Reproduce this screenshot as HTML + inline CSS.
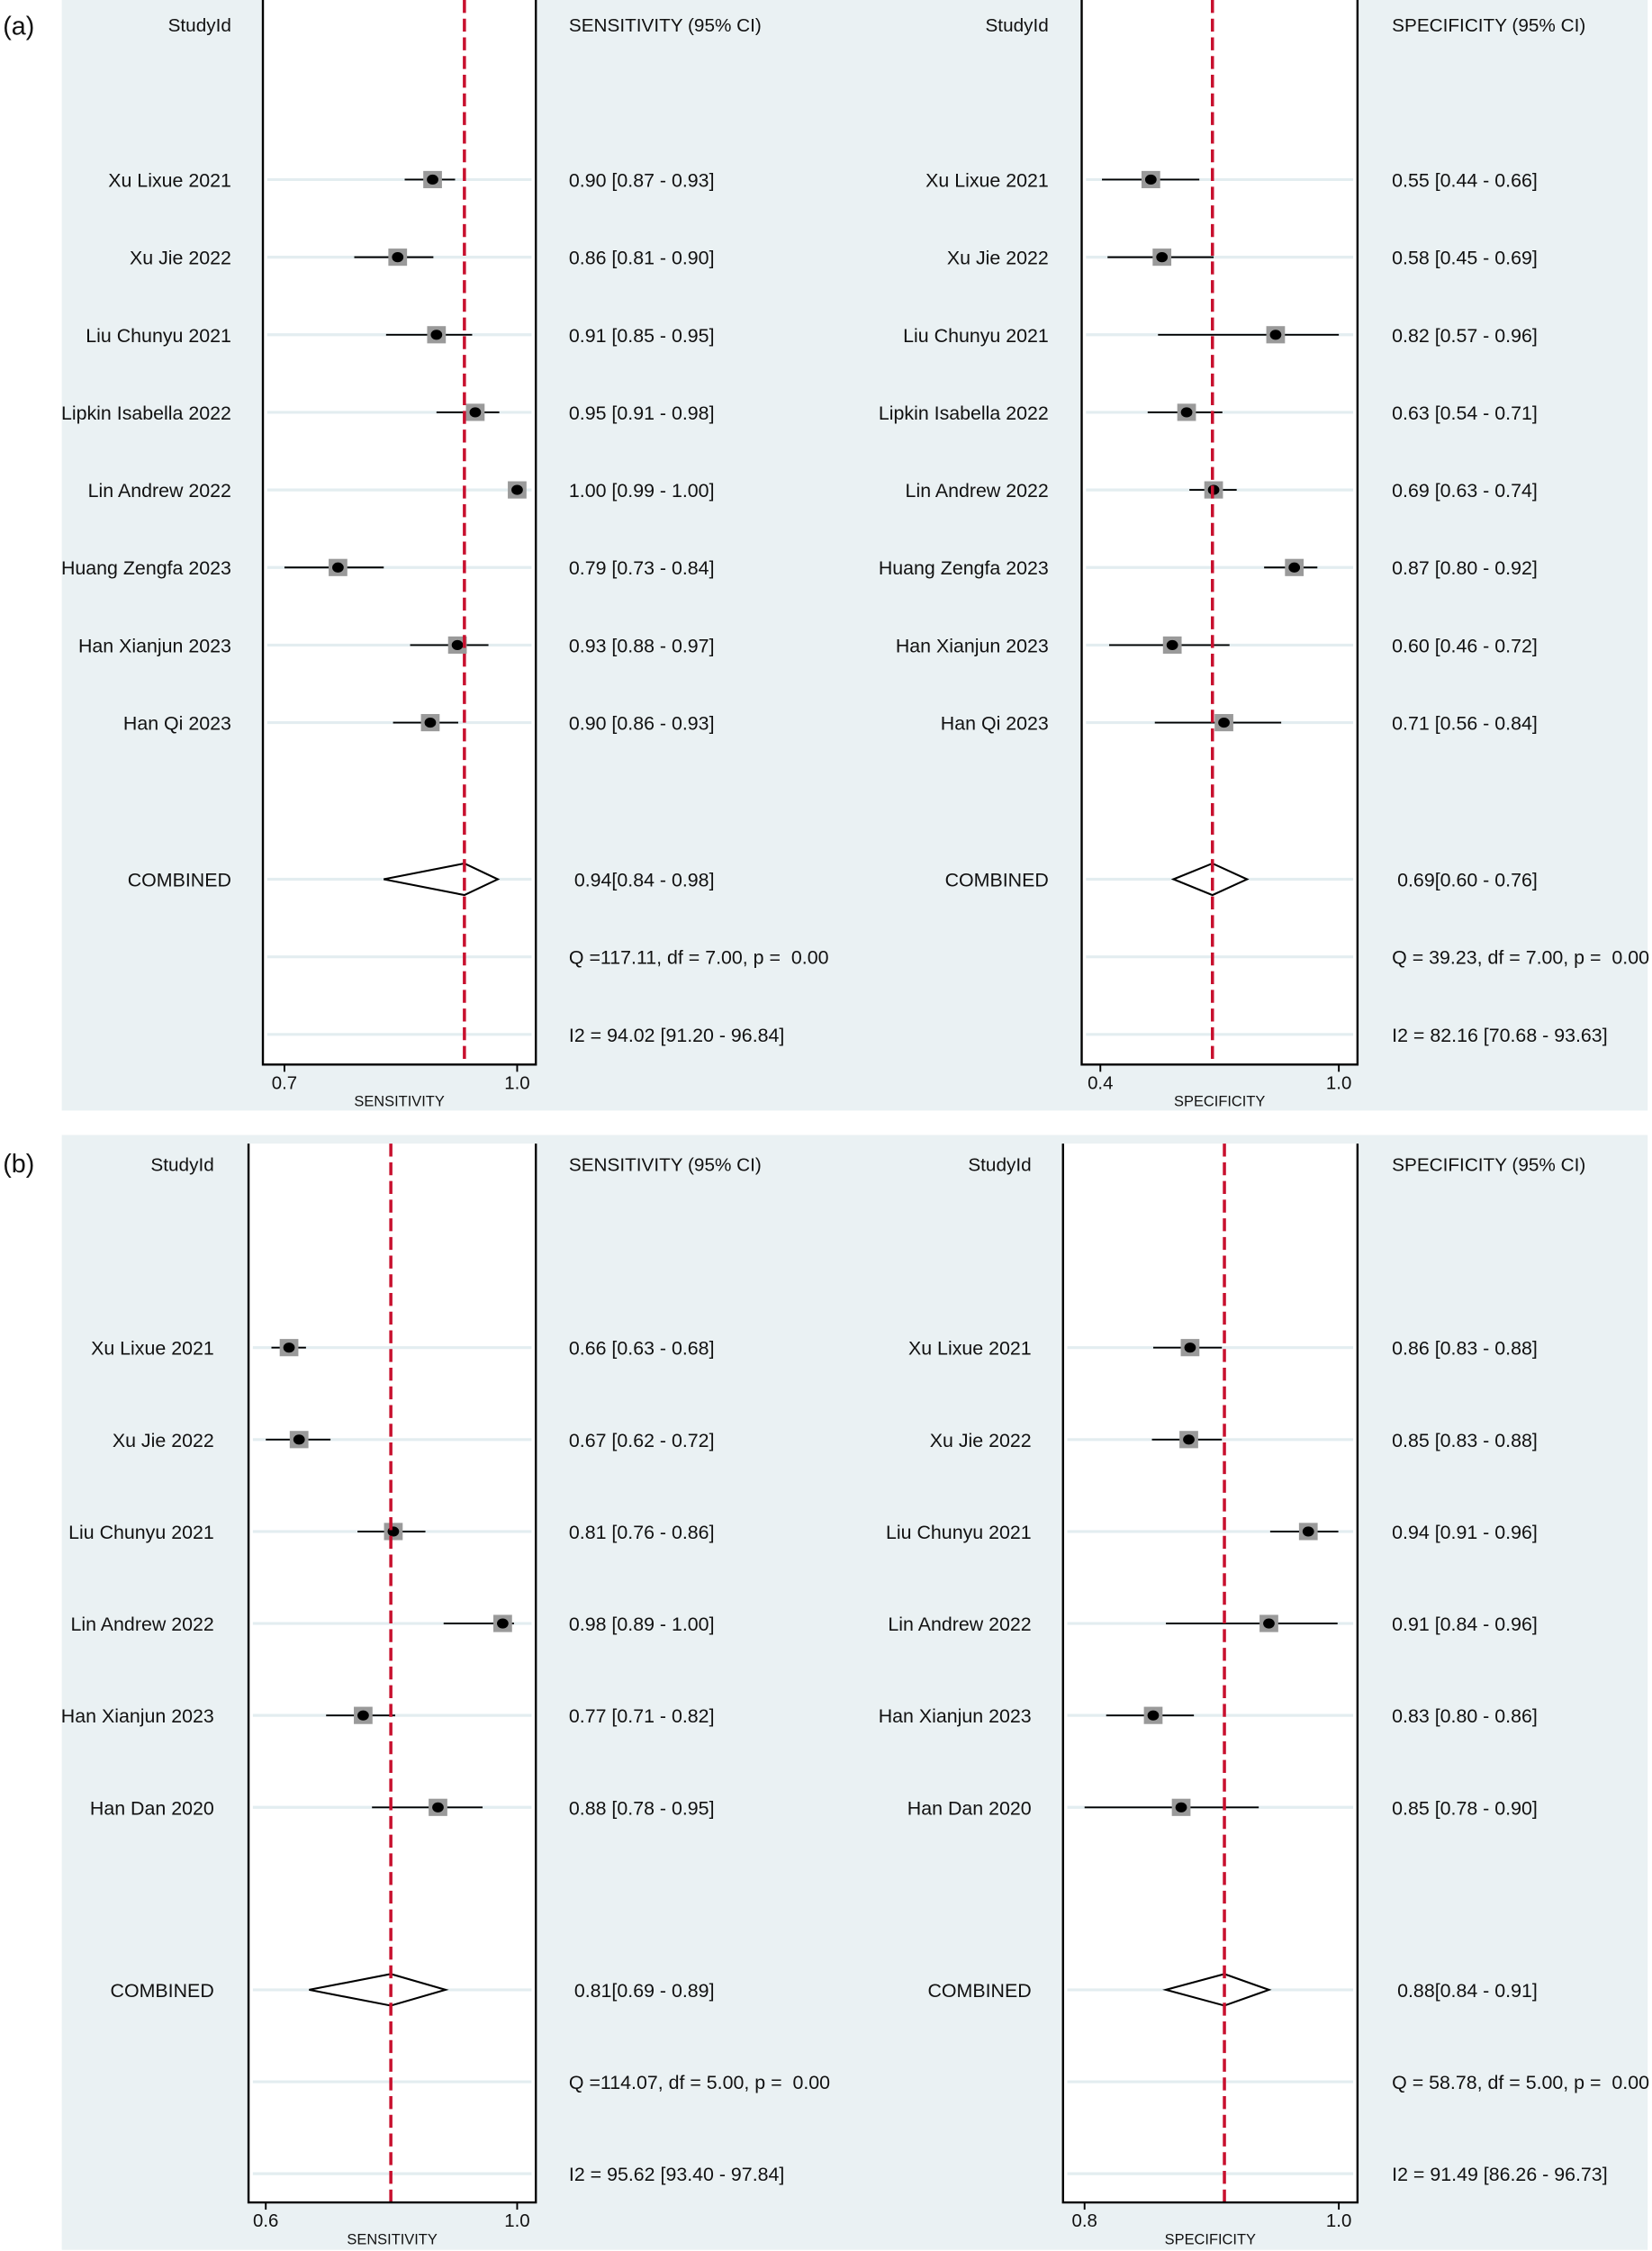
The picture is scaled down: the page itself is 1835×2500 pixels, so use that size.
<!DOCTYPE html>
<html><head><meta charset="utf-8"><style>
html,body{margin:0;padding:0;background:#fff}
svg{display:block}
text{font-family:"Liberation Sans",Arial,sans-serif;fill:#111;white-space:pre}
</style></head><body>
<svg id="chart" width="1835" height="2500" viewBox="0 0 1150 1566.8" xmlns="http://www.w3.org/2000/svg" xml:space="preserve">
<rect x="43" y="0" width="1104" height="773" fill="#eaf1f3"/>
<rect x="43" y="790" width="1104" height="776" fill="#eaf1f3"/>
<text x="2" y="24" font-size="18">(a)</text>
<text x="2" y="816" font-size="18">(b)</text>
<g id="plots"></g>
</svg>
<script>
// Panel (a) sensitivity
const aStudies = ["Xu Lixue 2021","Xu Jie 2022","Liu Chunyu 2021","Lipkin Isabella 2022","Lin Andrew 2022","Huang Zengfa 2023","Han Xianjun 2023","Han Qi 2023"];
const aSensEst = [0.891,0.846,0.896,0.946,1.0,0.769,0.923,0.888];
const aSensLo = [0.855,0.79,0.831,0.896,1.0,0.70,0.862,0.840];
const aSensHi = [0.92,0.892,0.942,0.977,1.0,0.828,0.963,0.924];
const aSensLabels = ["0.90 [0.87 - 0.93]","0.86 [0.81 - 0.90]","0.91 [0.85 - 0.95]","0.95 [0.91 - 0.98]","1.00 [0.99 - 1.00]","0.79 [0.73 - 0.84]","0.93 [0.88 - 0.97]","0.90 [0.86 - 0.93]"];
const aSensPooled = [0.828,0.932,0.975];
const aSensStats = [" 0.94[0.84 - 0.98]","Q =117.11, df = 7.00, p =  0.00","I2 = 94.02 [91.20 - 96.84]"];
const aSensTicks = [0.7,1.0];
// Panel (a) specificity
const aSpecEst = [0.527,0.555,0.841,0.617,0.685,0.888,0.581,0.711];
const aSpecLo = [0.404,0.418,0.545,0.519,0.624,0.812,0.422,0.537];
const aSpecHi = [0.649,0.685,1.0,0.707,0.743,0.946,0.725,0.855];
const aSpecLabels = ["0.55 [0.44 - 0.66]","0.58 [0.45 - 0.69]","0.82 [0.57 - 0.96]","0.63 [0.54 - 0.71]","0.69 [0.63 - 0.74]","0.87 [0.80 - 0.92]","0.60 [0.46 - 0.72]","0.71 [0.56 - 0.84]"];
const aSpecPooled = [0.584,0.682,0.769];
const aSpecStats = [" 0.69[0.60 - 0.76]","Q = 39.23, df = 7.00, p =  0.00","I2 = 82.16 [70.68 - 93.63]"];
const aSpecTicks = [0.4,1.0];
// Panel (b) sensitivity
const bStudies = ["Xu Lixue 2021","Xu Jie 2022","Liu Chunyu 2021","Lin Andrew 2022","Han Xianjun 2023","Han Dan 2020"];
const bSensEst = [0.637,0.653,0.803,0.977,0.755,0.874];
const bSensLo = [0.609,0.60,0.746,0.883,0.696,0.769];
const bSensHi = [0.664,0.703,0.854,0.995,0.806,0.945];
const bSensLabels = ["0.66 [0.63 - 0.68]","0.67 [0.62 - 0.72]","0.81 [0.76 - 0.86]","0.98 [0.89 - 1.00]","0.77 [0.71 - 0.82]","0.88 [0.78 - 0.95]"];
const bSensPooled = [0.669,0.799,0.886];
const bSensStats = [" 0.81[0.69 - 0.89]","Q =114.07, df = 5.00, p =  0.00","I2 = 95.62 [93.40 - 97.84]"];
const bSensTicks = [0.6,1.0];
// Panel (b) specificity
const bSpecEst = [0.883,0.882,0.976,0.945,0.854,0.876];
const bSpecLo = [0.854,0.853,0.946,0.864,0.817,0.80];
const bSpecHi = [0.908,0.908,0.9996,0.999,0.886,0.937];
const bSpecLabels = ["0.86 [0.83 - 0.88]","0.85 [0.83 - 0.88]","0.94 [0.91 - 0.96]","0.91 [0.84 - 0.96]","0.83 [0.80 - 0.86]","0.85 [0.78 - 0.90]"];
const bSpecPooled = [0.864,0.910,0.945];
const bSpecStats = [" 0.88[0.84 - 0.91]","Q = 58.78, df = 5.00, p =  0.00","I2 = 91.49 [86.26 - 96.73]"];
const bSpecTicks = [0.8,1.0];

const NS="http://www.w3.org/2000/svg";
const root=document.getElementById('plots');
const FS=13.4;
function mk(tag,attrs,parent){const e=document.createElementNS(NS,tag);for(const k in attrs)e.setAttribute(k,attrs[k]);(parent||root).appendChild(e);return e;}

function panel(cfg){
  const g=mk('g',{});
  
  
  const x=v=>cfg.t0x+(v-cfg.ticks[0])/(cfg.ticks[1]-cfg.ticks[0])*(cfg.t1x-cfg.t0x);
  mk('rect',{x:cfg.bx0,y:cfg.top,width:cfg.bx1-cfg.bx0,height:cfg.bottom-cfg.top,fill:'#fff'},g);
  let h=mk('text',{x:cfg.labelX,y:cfg.headY,'font-size':FS-0.4,'text-anchor':'end'},g);h.textContent='StudyId';
  
  let h2=mk('text',{x:cfg.valX,y:cfg.headY,'font-size':FS-0.4},g);h2.textContent=cfg.valHeader;
  
  const allRows=cfg.rows.concat([cfg.combY,cfg.qY,cfg.iY]);
  allRows.forEach(y=>mk('line',{x1:cfg.bx0+3,x2:cfg.bx1-3,y1:y,y2:y,stroke:'#e3edf0','stroke-width':2},g));
  cfg.studies.forEach((s,i)=>{
    const y=cfg.rows[i];
    const t=mk('text',{x:cfg.labelX,y:y+5,'font-size':FS,'text-anchor':'end'},g);t.textContent=s;
    
    const ci=mk('line',{x1:x(cfg.lo[i]),x2:x(cfg.hi[i]),y1:y,y2:y,stroke:'#000','stroke-width':1.2},g);
    
    const sq=mk('rect',{x:x(cfg.est[i])-6.5,y:y-6,width:13,height:12,fill:'#9a9a9a'},g);
    
    const d=mk('ellipse',{cx:x(cfg.est[i]),cy:y,rx:4,ry:3.5,fill:'#000'},g);
    
    const v=mk('text',{x:cfg.valX,y:y+5,'font-size':FS},g);v.textContent=cfg.labels[i];
    
  });
  const ct=mk('text',{x:cfg.labelX,y:cfg.combY+5,'font-size':FS,'text-anchor':'end'},g);ct.textContent='COMBINED';
  
  const p=cfg.pooled;
  const dia=mk('polygon',{points:`${x(p[0])},${cfg.combY} ${x(p[1])},${cfg.combY-11} ${x(p[2])},${cfg.combY} ${x(p[1])},${cfg.combY+11}`,fill:'#fff',stroke:'#000','stroke-width':1.3},g);
  
  [cfg.combY,cfg.qY,cfg.iY].forEach((y,i)=>{
    const s=mk('text',{x:cfg.valX,y:y+5,'font-size':FS},g);s.textContent=cfg.stats[i];
    
  });
  const rl=mk('line',{x1:x(p[1]),x2:x(p[1]),y1:cfg.top,y2:cfg.bottom,stroke:'#c8102e','stroke-width':2.2,'stroke-dasharray':'9,4'},g);
  
  mk('polyline',{points:`${cfg.bx0},${cfg.top} ${cfg.bx0},${cfg.bottom} ${cfg.bx1},${cfg.bottom} ${cfg.bx1},${cfg.top}`,fill:'none',stroke:'#000','stroke-width':1.5},g);
  cfg.ticks.forEach(tv=>{
    mk('line',{x1:x(tv),x2:x(tv),y1:cfg.bottom,y2:cfg.bottom+5,stroke:'#000','stroke-width':1.2},g);
    const tl=mk('text',{x:x(tv),y:cfg.bottom+17,'font-size':12.8,'text-anchor':'middle'},g);tl.textContent=tv.toFixed(1);
    
  });
  const at=mk('text',{x:(cfg.bx0+cfg.bx1)/2,y:cfg.bottom+29,'font-size':10.3,'text-anchor':'middle'},g);at.textContent=cfg.axisTitle;
  
}
const aRows=[125,179,233,287,341,395,449,503];
const bRows=[938,1002,1066,1130,1194,1258];
panel({name:'panel-a-sensitivity',studies:aStudies,est:aSensEst,lo:aSensLo,hi:aSensHi,labels:aSensLabels,pooled:aSensPooled,stats:aSensStats,ticks:aSensTicks,
  bx0:183,bx1:373,t0x:198,t1x:360,top:0,bottom:741,headY:22,labelX:161,valX:396,valHeader:'SENSITIVITY (95% CI)',rows:aRows,combY:612,qY:666,iY:720,axisTitle:'SENSITIVITY'});
panel({name:'panel-a-specificity',studies:aStudies,est:aSpecEst,lo:aSpecLo,hi:aSpecHi,labels:aSpecLabels,pooled:aSpecPooled,stats:aSpecStats,ticks:aSpecTicks,
  bx0:753,bx1:945,t0x:766,t1x:932,top:0,bottom:741,headY:22,labelX:730,valX:969,valHeader:'SPECIFICITY (95% CI)',rows:aRows,combY:612,qY:666,iY:720,axisTitle:'SPECIFICITY'});
panel({name:'panel-b-sensitivity',studies:bStudies,est:bSensEst,lo:bSensLo,hi:bSensHi,labels:bSensLabels,pooled:bSensPooled,stats:bSensStats,ticks:bSensTicks,
  bx0:173,bx1:373,t0x:185,t1x:360,top:796,bottom:1533,headY:815,labelX:149,valX:396,valHeader:'SENSITIVITY (95% CI)',rows:bRows,combY:1385,qY:1449,iY:1513,axisTitle:'SENSITIVITY'});
panel({name:'panel-b-specificity',studies:bStudies,est:bSpecEst,lo:bSpecLo,hi:bSpecHi,labels:bSpecLabels,pooled:bSpecPooled,stats:bSpecStats,ticks:bSpecTicks,
  bx0:740,bx1:945,t0x:755,t1x:932,top:796,bottom:1533,headY:815,labelX:718,valX:969,valHeader:'SPECIFICITY (95% CI)',rows:bRows,combY:1385,qY:1449,iY:1513,axisTitle:'SPECIFICITY'});
</script>
</body></html>
